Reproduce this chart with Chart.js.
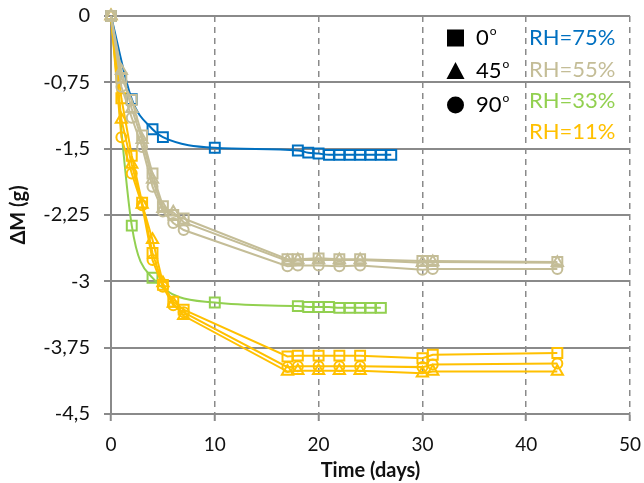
<!DOCTYPE html>
<html lang="en">
<head>
  <meta charset="UTF-8">
  <title>Mass loss vs time</title>
  <script src="https://cdn.jsdelivr.net/npm/chart.js"></script>
  <style>
    html, body { margin: 0; padding: 0; background: #fff; }
    #wrap { width: 644px; height: 483px; }
  </style>
</head>
<body>
  <div id="wrap"><canvas id="massChart" width="644" height="483"></canvas></div>

  <script>
    // --- data (days, mass change in g) ---
    const daysRH75 = [0, 2, 4, 5, 10, 18, 19, 20, 21, 22, 23, 24, 25, 26, 27];
    const dmRH75 = [0, -0.94, -1.28, -1.37, -1.49, -1.52, -1.545, -1.555, -1.57, -1.57, -1.57, -1.57, -1.57, -1.57, -1.57];

    const daysRH33 = [0, 2, 4, 10, 18, 19, 20, 21, 22, 23, 24, 25, 26];
    const dmRH33 = [0, -2.37, -2.96, -3.24, -3.28, -3.29, -3.29, -3.29, -3.30, -3.30, -3.30, -3.30, -3.30];

    const daysLong = [0, 1, 2, 3, 4, 5, 6, 7, 17, 18, 20, 22, 24, 30, 31, 43];
    const dmRH55_0 = [0, -0.70, -0.95, -1.35, -1.78, -2.15, -2.25, -2.29, -2.75, -2.75, -2.74, -2.75, -2.75, -2.77, -2.77, -2.78];
    const dmRH55_45 = [0, -0.62, -1.05, -1.40, -1.85, -2.18, -2.22, -2.33, -2.77, -2.76, -2.76, -2.76, -2.76, -2.79, -2.78, -2.79];
    const dmRH55_90 = [0, -0.80, -1.15, -1.48, -1.93, -2.21, -2.34, -2.42, -2.83, -2.82, -2.82, -2.83, -2.82, -2.87, -2.86, -2.86];
    const dmRH11_0 = [0, -0.93, -1.58, -2.11, -2.68, -3.04, -3.23, -3.32, -3.85, -3.84, -3.84, -3.84, -3.84, -3.87, -3.83, -3.81];
    const dmRH11_45 = [0, -1.17, -1.68, -2.13, -2.53, -3.02, -3.25, -3.39, -4.02, -4.01, -4.01, -4.01, -4.01, -4.04, -4.02, -4.02];
    const dmRH11_90 = [0, -1.37, -1.78, -2.14, -2.76, -3.06, -3.27, -3.35, -3.97, -3.96, -3.96, -3.96, -3.96, -3.97, -3.94, -3.93];

    const yTicks = [0, -0.75, -1.5, -2.25, -3, -3.75, -4.5];
    const xTicks = [0, 10, 20, 30, 40, 50];

    const rhLabels = ['RH=75%', 'RH=55%', 'RH=33%', 'RH=11%'];
    const angleLabels = ['0', '45', '90'];

    const BLUE = '#0070C0', TAN = '#C4BD97', GREEN = '#92D050', GOLD = '#FFC000';
    const FONT = 'Lato, "Open Sans", sans-serif';

    const pts = (xs, ys) => xs.map((x, i) => ({ x: x, y: ys[i] }));

    function series(xs, ys, color, style, smooth) {
      const radius = style === 'rect' ? 7 : style === 'triangle' ? 6.5 : 5;
      return {
        data: pts(xs, ys),
        borderColor: color,
        borderWidth: 2,
        pointStyle: style,
        pointRadius: radius,
        pointBorderWidth: 2,
        pointBorderColor: color,
        pointBackgroundColor: 'rgba(255,255,255,0)',
        cubicInterpolationMode: smooth ? 'monotone' : 'default',
        tension: 0,
        clip: false,
        fill: false
      };
    }

    // first dataset is drawn on top
    const datasets = [
      series(daysLong, dmRH55_0, TAN, 'rect'),
      series(daysLong, dmRH55_45, TAN, 'triangle'),
      series(daysLong, dmRH55_90, TAN, 'circle'),
      series(daysRH75, dmRH75, BLUE, 'rect', true),
      series(daysLong, dmRH11_0, GOLD, 'rect'),
      series(daysLong, dmRH11_45, GOLD, 'triangle'),
      series(daysLong, dmRH11_90, GOLD, 'circle'),
      series(daysRH33, dmRH33, GREEN, 'rect', true)
    ];

    // legend box inside the plot
    const keyPlugin = {
      id: 'key',
      afterDraw(chart) {
        const ctx = chart.ctx;
        ctx.save();
        ctx.fillStyle = '#000';
        const sx = 455.5, rows = [38, 71, 105];
        // square
        ctx.fillRect(sx - 8.5, rows[0] - 8.5, 17, 17);
        // triangle
        ctx.beginPath();
        ctx.moveTo(sx, rows[1] - 9);
        ctx.lineTo(sx + 9, rows[1] + 8);
        ctx.lineTo(sx - 9, rows[1] + 8);
        ctx.closePath();
        ctx.fill();
        // circle
        ctx.beginPath();
        ctx.arc(sx, rows[2], 8.5, 0, Math.PI * 2);
        ctx.fill();

        ctx.textBaseline = 'middle';
        ctx.textAlign = 'left';
        angleLabels.forEach((t, i) => {
          const x = 476;
          ctx.font = '22px ' + FONT;
          ctx.fillText(t, x, rows[i]);
          const w = ctx.measureText(t).width;
          ctx.font = '12px ' + FONT;
          ctx.fillText('o', x + w + 1, rows[i] - 7);
        });

        const colors = [BLUE, TAN, GREEN, GOLD];
        const rhRows = [38, 70, 101, 132];
        ctx.font = '22px ' + FONT;
        rhLabels.forEach((t, i) => {
          ctx.fillStyle = colors[i];
          ctx.fillText(t, 529, rhRows[i]);
        });
        ctx.restore();
      }
    };

    new Chart(document.getElementById('massChart'), {
      type: 'line',
      data: { datasets: datasets },
      plugins: [keyPlugin],
      options: {
        responsive: false,
        animation: false,
        events: [],
        layout: { padding: { left: 0, right: 14, top: 16, bottom: 0 } },
        plugins: {
          legend: { display: false },
          tooltip: { enabled: false }
        },
        scales: {
          x: {
            type: 'linear',
            min: 0,
            max: 50,
            afterBuildTicks: s => { s.ticks = xTicks.map(v => ({ value: v })); },
            afterFit: s => { s.height = 69; s.paddingLeft = 0; s.paddingRight = 0; },
            grid: { color: '#8a8a8a', lineWidth: 1.5, tickLength: 7, tickColor: '#8a8a8a', tickWidth: 2 },
            border: { display: true, color: '#8a8a8a', width: 2, dash: [6, 5] },
            ticks: { color: '#111', font: { family: FONT, size: 19 }, padding: 12, maxRotation: 0 },
            title: { display: true, text: 'Time (days)', color: '#111', font: { family: FONT, size: 20, weight: 'bold' }, padding: { top: 4, bottom: 0 } }
          },
          y: {
            type: 'linear',
            min: -4.5,
            max: 0,
            afterBuildTicks: s => { s.ticks = yTicks.map(v => ({ value: v })); },
            afterFit: s => { s.width = 111; s.paddingTop = 0; s.paddingBottom = 0; },
            grid: { color: '#8a8a8a', lineWidth: 2, tickLength: 7 },
            border: { display: true, color: '#8a8a8a', width: 2 },
            ticks: {
              color: '#111',
              font: { family: FONT, size: 20 },
              padding: 14,
              callback: v => String(Math.round(v * 100) / 100).replace('.', ',')
            },
            title: { display: true, text: 'ΔM (g)', color: '#111', font: { family: FONT, size: 20, weight: 'bold' }, padding: { top: 7, bottom: 0 } }
          }
        }
      }
    });
  </script>
</body>
</html>
